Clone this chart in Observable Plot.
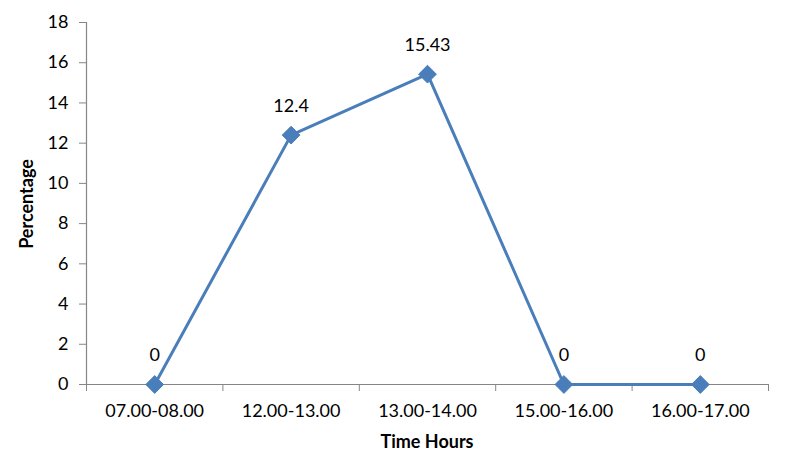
<!DOCTYPE html>
<html><head><meta charset="utf-8">
<script src="https://cdn.jsdelivr.net/npm/d3@7"></script>
<script src="https://cdn.jsdelivr.net/npm/@observablehq/plot@0.6"></script>
<style>body{margin:0;background:#fff;font-family:Lato,sans-serif}</style>
</head><body><div id="c"></div>
<script>
const categories = ["07.00-08.00","12.00-13.00","13.00-14.00","15.00-16.00","16.00-17.00"];
const values = [0, 12.4, 15.43, 0, 0];
const labels = ["0","12.4","15.43","0","0"];
const yTicks = [0,2,4,6,8,10,12,14,16,18];

const data = categories.map((c,i)=>({i: i+0.5, c, v: values[i], l: labels[i]}));
const gray = "#868686";
const blue = "#4a7ebb";
const fs = 18;
const chart = Plot.plot({
  width: 809, height: 460,
  marginLeft: 86, marginRight: 41, marginTop: 22, marginBottom: 76,
  style: {fontFamily: "Lato, sans-serif", fontSize: fs + "px", color: "#000", background: "#fff"},
  x: {type: "linear", domain: [0, categories.length]},
  y: {domain: [0, 18]},
  marks: [
    Plot.axisY({ticks: yTicks, tickSize: 7, tickPadding: 11, stroke: gray, label: null, fill: "#000", fontSize: fs}),
    Plot.axisX({ticks: d3.range(0, categories.length+1), tickSize: 7, tickFormat: () => "", stroke: gray, label: null}),
    Plot.axisX({ticks: data.map(d=>d.i), tickSize: 0, tickPadding: 20, tickFormat: (t) => categories[Math.floor(t)], label: null, fill: "#000", fontSize: fs}),
    Plot.ruleX([0], {stroke: gray, strokeWidth: 1.2}),
    Plot.ruleY([0], {stroke: gray, strokeWidth: 1.2}),
    Plot.line(data, {x: "i", y: "v", stroke: blue, strokeWidth: 3}),
    Plot.dot(data, {x: "i", y: "v", symbol: "diamond2", r: 8, fill: blue, stroke: blue, strokeWidth: 1}),
    Plot.text(data, {x: "i", y: "v", text: "l", dy: -29, fontSize: fs, fill: "#000"})
  ]
});
const svg = d3.select(chart);
svg.append("text").attr("x", 427).attr("y", 442).attr("dy","0.35em").attr("text-anchor","middle")
  .attr("font-weight","bold").attr("font-size",fs).text("Time Hours");
svg.append("text").attr("transform","translate(27,204) rotate(-90)").attr("dy","0.35em").attr("text-anchor","middle")
  .attr("font-weight","bold").attr("font-size",fs).text("Percentage");
document.getElementById("c").appendChild(chart);
</script></body></html>
